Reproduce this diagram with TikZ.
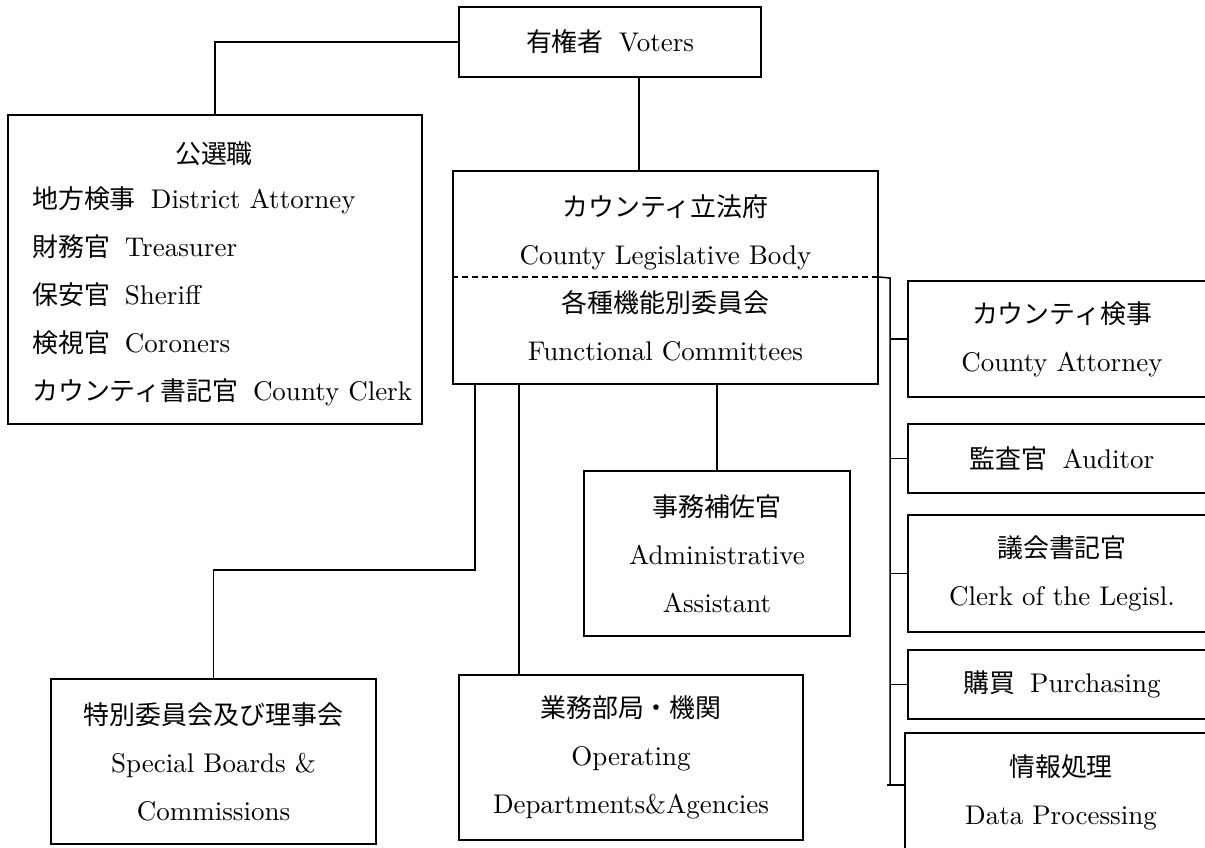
\documentclass[tikz,border=0pt]{standalone}
\usepackage{fontspec}
\setmainfont{lmroman10-regular.otf}
\newfontfamily\jp[Scale=0.96]{Noto Sans CJK JP}
\newcommand\jgap{\hspace{15pt}}
\begin{document}
\begin{tikzpicture}[x=1pt,y=-1pt,
  box/.style={draw, line width=1.5pt, inner sep=0pt, align=center,
    font=\fontsize{27}{48}\selectfont},
  txt/.style={inner sep=0pt, font=\fontsize{27}{48}\selectfont},
  conn/.style={line width=1.5pt}]
\useasboundingbox (0,0) rectangle (1205,847);
\clip (0,0) rectangle (1205,847);
% boxes
\node[box, minimum width=302, minimum height=70] (voters) at (610,42) {{\jp 有権者}\jgap Voters};
\node[box, minimum width=414, minimum height=309] (elected) at (215,269.5) {};
\node[txt] (electedtitle) at (214,154) {\jp 公選職};
\node[txt, anchor=west, align=left] (electedlist) at (32,296)
  {{\jp 地方検事}\jgap District Attorney\\
   {\jp 財務官}\jgap Treasurer\\
   {\jp 保安官}\jgap Sheriff\\
   {\jp 検視官}\jgap Coroners\\
   {\jp カウンティ書記官}\jgap County Clerk};
\node[box, minimum width=425, minimum height=213] (legis) at (665.5,277.5)
  {{\jp カウンティ立法府}\\County Legislative Body\\{\jp 各種機能別委員会}\\Functional Committees};
\node[box, minimum width=308, minimum height=116] (attorney) at (1062,339)
  {{\jp カウンティ検事}\\County Attorney};
\node[box, minimum width=308, minimum height=69] (auditor) at (1062,458.5)
  {{\jp 監査官}\jgap Auditor};
\node[box, minimum width=308, minimum height=117] (clerk) at (1062,573.5)
  {{\jp 議会書記官}\\Clerk of the Legisl.};
\node[box, minimum width=308, minimum height=69] (purch) at (1062,684.5)
  {{\jp 購買}\jgap Purchasing};
\node[box, minimum width=312, minimum height=118] (dp) at (1061,792)
  {{\jp 情報処理}\\Data Processing};
\node[box, minimum width=266, minimum height=165] (admin) at (717,553.5)
  {{\jp 事務補佐官}\\Administrative\\Assistant};
\node[box, minimum width=325, minimum height=165] (special) at (213.5,761.5)
  {{\jp 特別委員会及び理事会}\\Special Boards \&\\Commissions};
\node[box, minimum width=344, minimum height=165] (ops) at (631,757.5)
  {{\jp 業務部局・機関}\\Operating\\Departments\&Agencies};
% helper coordinates
\coordinate (lx) at (639,0);
\coordinate (dash) at (0,277);
\coordinate (ttop) at (890,278);
\coordinate (tbot) at (890,785);
\coordinate (j1) at (475,570);
\coordinate (j2) at (519,0);
% connectors
\draw[conn] (voters.west) -| (elected.north);
\draw[conn] (voters.south -| lx) -- (legis.north -| lx);
\draw[line width=1.4pt, dash pattern=on 6pt off 4pt] (legis.west |- dash) -- (legis.east |- dash);
\draw[conn] (legis.east |- dash) -- (ttop) -- (tbot);
\draw[conn] (ttop |- attorney.west) -- (attorney.west);
\draw[conn] (ttop |- auditor.west) -- (auditor.west);
\draw[conn] (ttop |- clerk.west) -- (clerk.west);
\draw[conn] (ttop |- purch.west) -- (purch.west);
\draw[conn] ([xshift=-3pt]tbot) -- (tbot -| dp.west);
\draw[conn] (legis.south -| j1) -- (j1) -| (special.north);
\draw[conn] (legis.south -| j2) -- (ops.north -| j2);
\draw[conn] (legis.south -| admin.north) -- (admin.north);
\end{tikzpicture}
\end{document}
